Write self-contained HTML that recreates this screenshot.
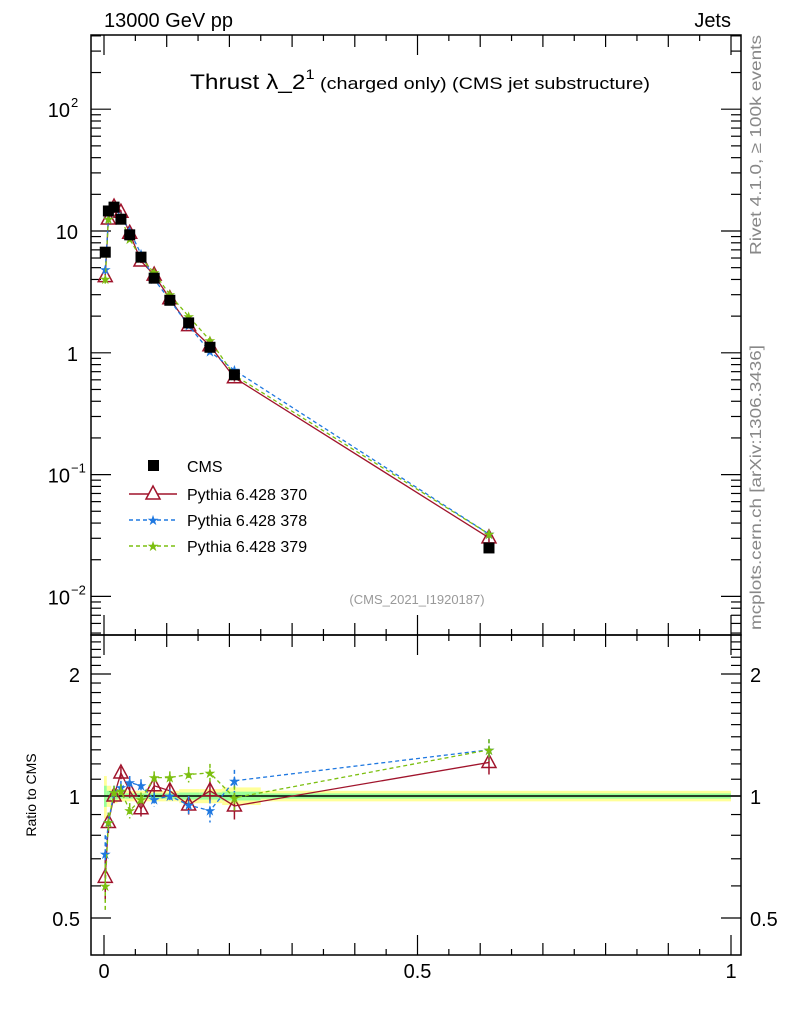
<!DOCTYPE html>
<html><head><meta charset="utf-8"><style>
body{margin:0;background:#fff;}
svg{display:block;font-family:"Liberation Sans",sans-serif;}
</style></head><body>
<svg id="chart" width="786" height="1024" xmlns="http://www.w3.org/2000/svg">
<text x="104" y="27" font-size="20">13000 GeV pp</text>
<text x="731" y="27" font-size="20" text-anchor="end">Jets</text>
<text x="190" y="89" font-size="21" textLength="460" lengthAdjust="spacingAndGlyphs">Thrust λ_2<tspan dy="-10" font-size="14">1</tspan><tspan dy="10" font-size="17"> (charged only) (CMS jet substructure)</tspan></text>
<text transform="translate(761,255) rotate(-90)" font-size="16" fill="#888" textLength="220" lengthAdjust="spacingAndGlyphs">Rivet 4.1.0, ≥ 100k events</text>
<text transform="translate(761,630) rotate(-90)" font-size="16" fill="#888" textLength="285" lengthAdjust="spacingAndGlyphs">mcplots.cern.ch [arXiv:1306.3436]</text>
<text x="417" y="604" font-size="13" fill="#999" text-anchor="middle">(CMS_2021_I1920187)</text>
<text transform="translate(36,795) rotate(-90)" font-size="14" text-anchor="middle">Ratio to CMS</text>
<g id="axes"></g><g id="marks"></g>
<g>
<rect x="148" y="460" width="11" height="11" fill="#000"/>
<text x="187" y="472" font-size="16">CMS</text>
<line x1="129" y1="494" x2="177" y2="494" stroke="#a0142c" stroke-width="1.5"/>
<polygon points="153,486 160,499 146,499" fill="#fff" stroke="#a0142c" stroke-width="1.5"/>
<text x="187" y="500" font-size="16">Pythia 6.428 370</text>
<line x1="129" y1="520" x2="177" y2="520" stroke="#1f78e0" stroke-width="1.5" stroke-dasharray="4,3"/>
<text x="153" y="525" font-size="14" fill="#1f78e0" text-anchor="middle">★</text>
<text x="187" y="526" font-size="16">Pythia 6.428 378</text>
<line x1="129" y1="546" x2="177" y2="546" stroke="#7cbf10" stroke-width="1.5" stroke-dasharray="4,3"/>
<text x="153" y="551" font-size="14" fill="#7cbf10" text-anchor="middle">★</text>
<text x="187" y="552" font-size="16">Pythia 6.428 379</text>
</g>
</svg>
<script>
const xVals=[0.002,0.007,0.016,0.027,0.041,0.059,0.080,0.105,0.135,0.169,0.208,0.614];
const cmsVals=[6.7,14.6,15.7,12.5,9.3,6.1,4.1,2.7,1.76,1.11,0.66,0.025];
const ratio370=[0.63,0.86,1.0,1.14,1.03,0.93,1.06,1.03,0.95,1.03,0.945,1.21];
const ratio378=[0.72,0.86,1.02,1.05,1.08,1.06,0.98,1.0,0.95,0.92,1.09,1.3];
const ratio379=[0.6,0.86,1.02,1.03,0.92,0.98,1.11,1.11,1.13,1.14,0.99,1.3];
const ratioErr=[0.08,0.05,0.04,0.04,0.04,0.04,0.04,0.04,0.05,0.06,0.07,0.08];
const bandErr=[0.12,0.06,0.04,0.03,0.03,0.03,0.03,0.03,0.04,0.04,0.05,0.03];
const xTickLabels=["0","0.5","1"];
const X=v=>104+v*627;
const Ym=v=>231-121.8*Math.log10(v/10);
const Yr=v=>796-122*Math.log2(v);
const NS="http://www.w3.org/2000/svg";
const ax=document.getElementById('axes'),mk=document.getElementById('marks');
function el(t,a,p){const e=document.createElementNS(NS,t);for(const k in a)e.setAttribute(k,a[k]);(p||mk).appendChild(e);return e;}
const edges=xVals.map((x,i)=>i==0?0:(xVals[i-1]+x)/2);edges.push(0.625);
edges[edges.length-2]=0.25;
for(let i=0;i<xVals.length;i++){
 const x0=X(edges[i]),x1=i==xVals.length-1?X(1):X(edges[i+1]);
 const b=el('rect',{x:x0,y:Yr(1+bandErr[i]),width:x1-x0,height:Yr(1-bandErr[i])-Yr(1+bandErr[i]),fill:'#ffff99'});
 
 const g=el('rect',{x:x0,y:Yr(1+bandErr[i]*0.5),width:x1-x0,height:Yr(1-bandErr[i]*0.5)-Yr(1+bandErr[i]*0.5),fill:'#99ff99'});
 
}
const ref=el('line',{x1:91,x2:741,y1:796,y2:796,stroke:'#000','stroke-width':1.5});

const series=[[ratio370,'#a0142c','','tri'],[ratio378,'#1f78e0','4,3','star'],[ratio379,'#7cbf10','4,3','star']];
series.forEach(([r,c,d,m],si)=>{
 const mainPts=xVals.map((x,i)=>X(x)+','+Ym(cmsVals[i]*r[i])).join(' ');
 const l1=el('polyline',{points:mainPts,fill:'none',stroke:c,'stroke-width':1.3,'stroke-dasharray':d});
 
 const rPts=xVals.map((x,i)=>X(x)+','+Yr(r[i])).join(' ');
 const l2=el('polyline',{points:rPts,fill:'none',stroke:c,'stroke-width':1.3,'stroke-dasharray':d});
 
 xVals.forEach((x,i)=>{
  [[Ym(cmsVals[i]*r[i]),Ym(cmsVals[i]*r[i]*(1+ratioErr[i])),Ym(cmsVals[i]*r[i]*(1-ratioErr[i]))],[Yr(r[i]),Yr(r[i]+ratioErr[i]),Yr(r[i]-ratioErr[i])]].forEach(([y,ya,yb])=>{
   const e=el('line',{x1:X(x),x2:X(x),y1:ya,y2:yb,stroke:c,'stroke-width':1.5,'stroke-dasharray':d});
   
   let p;
   if(m=='tri'){p=el('polygon',{points:`${X(x)},${y-8} ${X(x)+7},${y+5} ${X(x)-7},${y+5}`,fill:'none',stroke:c,'stroke-width':1.5});}
   else{p=el('text',{x:X(x),y:y+5,'font-size':14,fill:c,'text-anchor':'middle'});p.textContent='★';}
   
  });
 });
});
xVals.forEach((x,i)=>{
 const s=el('rect',{x:X(x)-5.5,y:Ym(cmsVals[i])-5.5,width:11,height:11,fill:'#000'});
 
});
[[35,600],[635,320]].forEach(([y,h])=>{const f=el('rect',{x:91,y:y,width:650,height:h,fill:'none',stroke:'#000','stroke-width':1.5},ax);
 });
function tk(x1,y1,x2,y2){el('line',{x1,y1,x2,y2,stroke:'#000','stroke-width':1.2},ax);}
for(let dec=-3;dec<=2;dec++)for(let k=1;k<10;k++){const v=k*Math.pow(10,dec);const y=Ym(v);if(y<35||y>635)continue;const L=k==1?20:10;tk(91,y,91+L,y);tk(741,y,741-L,y);}
[[100,'10','2'],[10,'10',''],[1,'1',''],[0.1,'10','−1'],[0.01,'10','−2']].forEach(([v,b,e])=>{
 const t=el('text',{x:e?70:78,y:Ym(v)+8,'font-size':20,'text-anchor':'end'},ax);t.textContent=b;
 
 if(e){const s=el('text',{x:71,y:Ym(v)-2,'font-size':13},ax);s.textContent=e;}
});
for(let v=0.5;v<=2.5;v+=0.1){const y=Yr(v);if(y<635||y>955)continue;const maj=Math.abs(v-1)<1e-6||Math.abs(v-2)<1e-6||Math.abs(v-0.5)<1e-6;tk(91,y,maj?111:101,y);tk(741,y,maj?721:731,y);}
[[2,'2'],[1,'1'],[0.5,'0.5']].forEach(([v,l])=>{
 const a=el('text',{x:80,y:Yr(v)+8,'font-size':20,'text-anchor':'end'},ax);a.textContent=l;
 
 const b=el('text',{x:750,y:Yr(v)+8,'font-size':20},ax);b.textContent=l;
});
for(let i=0;i<=20;i++){const x=X(i*0.05);const L=i%10==0?20:(i%2==0?12:6);[635,955].forEach(y=>{tk(x,y,x,y-L);});tk(x,635,x,635+L);tk(x,35,x,35+L);}
xTickLabels.forEach((l,i)=>{const t=el('text',{x:X(i*0.5),y:978,'font-size':20,'text-anchor':'middle'},ax);t.textContent=l;
 });
</script>
</body></html>
